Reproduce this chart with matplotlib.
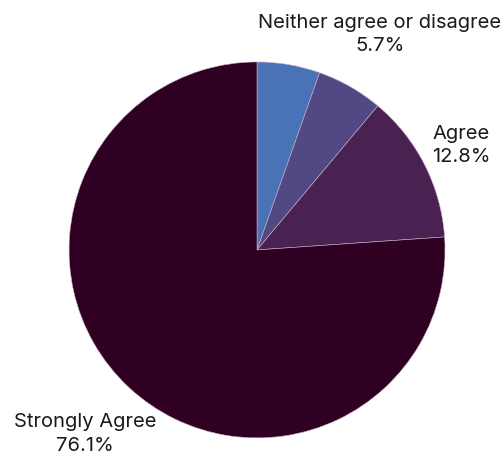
import numpy as np
import matplotlib
matplotlib.use("Agg")
import matplotlib.pyplot as plt

plt.rcParams['font.family'] = ['Inter', 'DejaVu Sans']

# slices, clockwise from 12 o'clock
categories = ['', '', 'Neither agree or disagree', 'Agree', 'Strongly Agree']
values = [0.0, 5.4, 5.7, 12.8, 76.1]
colors = ['#c8465a', '#4a72b6', '#524883', '#4a2251', '#2f0022']
label_dist = [0, 0, 1.32, 1.22, 1.34]

fig = plt.figure(figsize=(5.04, 4.59), dpi=100)
ax = fig.add_axes([0.137, 0.046, 0.746, 0.819])

wedges, _ = ax.pie(values, colors=colors, startangle=90, counterclock=False,
                   wedgeprops=dict(linewidth=0.4, edgecolor='#c8b0c8'))
wedges[0].set_edgecolor(colors[0])
wedges[0].set_linewidth(1.0)

total = sum(values)
for w, name, v, r in zip(wedges, categories, values, label_dist):
    if not name:
        continue
    mid = np.deg2rad((w.theta1 + w.theta2) / 2)
    ax.text(r * np.cos(mid), r * np.sin(mid), f'{name}\n{v / total * 100:.1f}%',
            ha='center', va='center', fontsize=14.5, color='#1a1a1a', linespacing=1.38)

ax.set_xlim(-1, 1)
ax.set_ylim(-1, 1)
ax.set_aspect('auto')

fig.savefig('out.png', dpi=100)
